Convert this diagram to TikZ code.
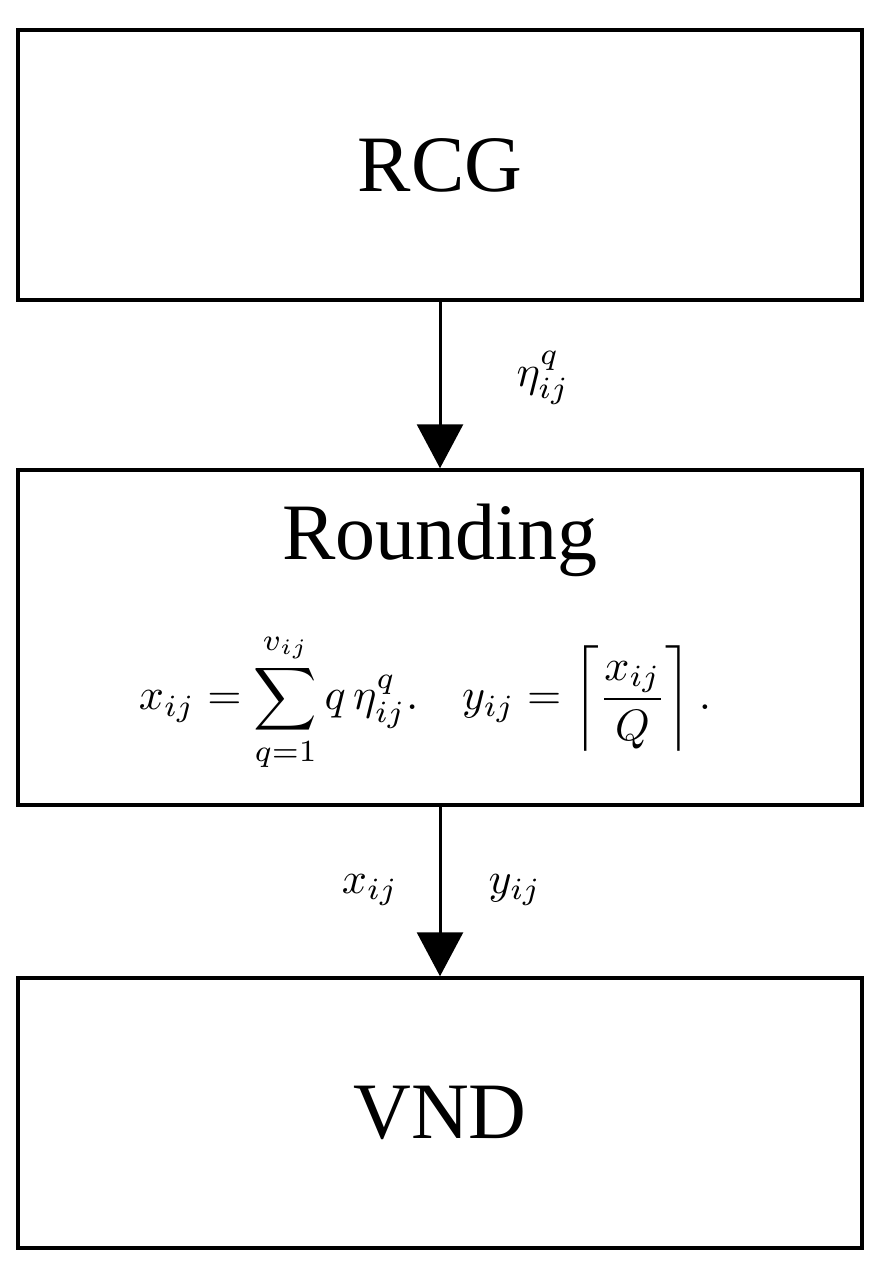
\documentclass[tikz,border=0pt]{standalone}
\usepackage{fontspec}
\setmainfont{Liberation Serif}
\usetikzlibrary{arrows.meta}
\begin{document}
\begin{tikzpicture}[x=1pt,y=-1pt,
  box/.style={draw,line width=3.5pt,minimum width=844pt,inner sep=0pt},
  arr/.style={line width=3pt,-{Triangle[length=44pt,width=46pt]}},
  big/.style={font=\fontsize{80}{90}\selectfont},
  mth/.style={scale=4.4,transform shape}]
\useasboundingbox (0,0) rectangle (890,1273);
\node[box,big,minimum height=270pt] (rcg) at (440,165) {RCG};
\node[box,minimum height=335pt] (rnd) at (440,637.5) {};
\node[big] (rt) at (440,540) {Rounding};
\node[mth] (eq) at (425,702) {$\displaystyle x_{ij}=\sum_{q=1}^{v_{ij}} q\,\eta_{ij}^q.\quad y_{ij}=\left\lceil\frac{x_{ij}}{Q}\right\rceil.$};
\node[box,big,minimum height=270pt] (vnd) at (440,1113) {VND};
\draw[arr] (rcg.south) -- (rnd.north);
\draw[arr] (rnd.south) -- (vnd.north);
\node[mth] (eta) at (543,378) {$\eta_{ij}^q$};
\node[mth] (xl) at (370,890) {$x_{ij}$};
\node[mth] (yl) at (515,890) {$y_{ij}$};
\end{tikzpicture}
\end{document}
